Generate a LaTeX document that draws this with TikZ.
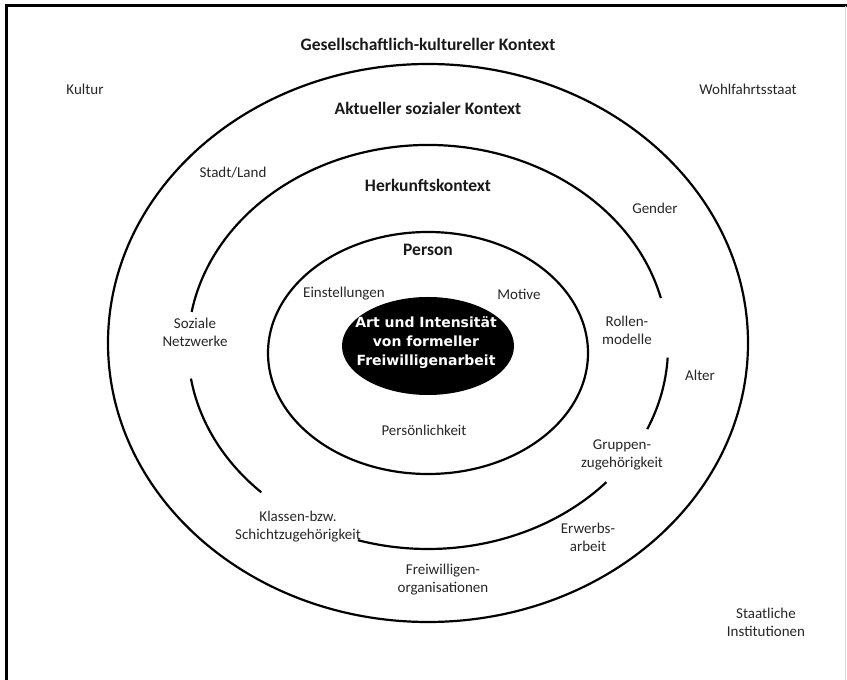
\documentclass[tikz,border=0pt]{standalone}
\usepackage{fontspec}
\setmainfont{Carlito}
\newfontfamily\corefont{DejaVu Sans}
\usetikzlibrary{shapes,positioning}
\tikzset{
    ring/.style={draw, line width=2.2pt},
    frame/.style={draw, line width=3pt},
    factor/.style={align=center, text=black!85, font=\fontsize{15}{18}\selectfont},
    context/.style={text=black!90, font=\bfseries\fontsize{17.5}{21}\selectfont},
    coretext/.style={align=center, text=white, font=\corefont\bfseries\fontsize{14}{19}\selectfont}
}

\begin{document}
\begin{tikzpicture}[x=1pt, y=1pt]
    \useasboundingbox (0,0) rectangle (847,680);
    \draw [frame] (6,0) -- (6,674) -- (847,674);
    \draw [gray!30, line width=1pt] (845,674) -- (845,0);

    \coordinate (ac) at (428,337);
    \coordinate (hc) at (428,333);
    \coordinate (pc) at (428,327);
    \coordinate (mid) at (428,334);

    \draw [ring] (ac) ellipse [x radius=320, y radius=279];
    \foreach \a/\b in {14/170, 189/226, 253/318, 336/357}
        \draw [ring] (hc) ++(\a:240 and 202) arc [start angle=\a, end angle=\b, x radius=240, y radius=202];
    \draw [ring] (pc) ellipse [x radius=160, y radius=121];
    \fill [black] (mid) ellipse [x radius=86, y radius=49];

    \node [coretext] (core) at (426,337) {Art und Intensität\\von formeller\\Freiwilligenarbeit};

    \node [context] (gesell) at (428,636) {Gesellschaftlich-kultureller Kontext};
    \node [context] (aktuell) at (428,572) {Aktueller sozialer Kontext};
    \node [context] (herkunft) at (428,495) {Herkunftskontext};
    \node [context] (person) at (428,430) {Person};

    \node [factor] (kultur) at (85,591) {Kultur};
    \node [factor] (wohlfahrt) at (748,591) {Wohlfahrtsstaat};
    \node [factor] (staat) at (766,58) {Staatliche\\Institutionen};

    \node [factor] (stadt) at (233,507) {Stadt/Land};
    \node [factor] (gender) at (655,472) {Gender};
    \node [factor] (alter) at (700,305) {Alter};
    \node [factor] (erwerb) at (588,143) {Erwerbs-\\arbeit};
    \node [factor] (orga) at (443,100) {Freiwilligen-\\organisationen};

    \node [factor] (netz) at (195,348) {Soziale\\Netzwerke};
    \node [factor] (rollen) at (627,350) {Rollen-\\modelle};
    \node [factor] (gruppen) at (622,225) {Gruppen-\\zugehörigkeit};
    \node [factor] (klassen) at (298,153) {Klassen-bzw.\\Schichtzugehörigkeit};

    \node [factor] (einst) at (344,386) {Einstellungen};
    \node [factor] (motive) at (519,386) {Motive};
    \node [factor] (pers) at (424,250) {Persönlichkeit};
\end{tikzpicture}
\end{document}
